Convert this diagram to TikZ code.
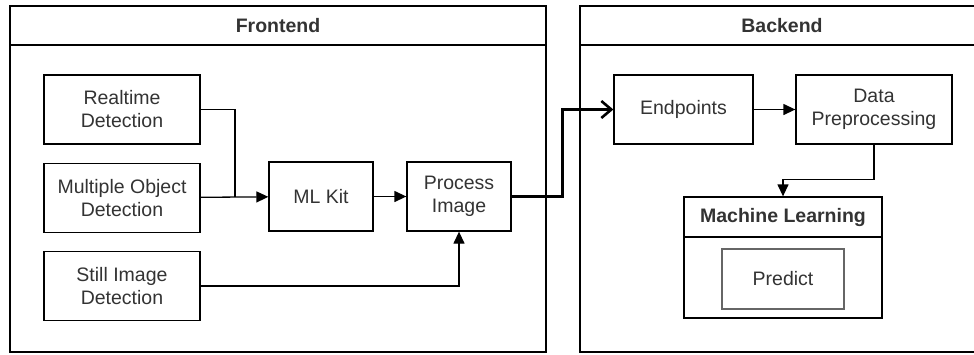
\documentclass[tikz,border=0pt]{standalone}
\usepackage{fontspec}
\setmainfont{Liberation Sans}
\usetikzlibrary{arrows.meta,positioning}
\definecolor{txtgray}{HTML}{333333}
\tikzset{
    box/.style={draw=black,line width=1.3pt,fill=white,align=center,text=txtgray,
        minimum width=156pt,minimum height=69pt,inner sep=0pt,
        font=\fontsize{19.5}{23}\selectfont},
    smallbox/.style={box,minimum width=104pt},
    link/.style={line width=1.3pt,-{Triangle[length=12pt,width=11pt]}},
    bigarrow/.style={line width=3pt,-{Straight Barb[length=10pt,width=17pt,line width=2.6pt]}},
    title/.style={text=txtgray,font=\bfseries\fontsize{19.5}{23}\selectfont}
}
\begin{document}
\begin{tikzpicture}[x=1pt,y=-1pt]
    \useasboundingbox (0,0) rectangle (974,354);
    \begin{scope}
        \clip (0,0) rectangle (974,354);

        % frontend frame
        \draw[line width=1.3pt] (10,6) rectangle (546,352);
        \draw[line width=1.3pt] (10,45) -- (546,45);
        \node[title] (front) at (278,26) {Frontend};

        % backend frame
        \draw[line width=1.3pt] (580,6) rectangle (990,352);
        \draw[line width=1.3pt] (580,45) -- (990,45);
        \node[title] (back) at (782,26) {Backend};
    \end{scope}

    % frontend boxes
    \node[box] (rt) at (122,109.5) {Realtime\\Detection};
    \node[box,below=18pt of rt] (mo) {Multiple Object\\Detection};
    \node[box,below=18pt of mo] (si) {Still Image\\Detection};
    \node[smallbox] (ml) at (321,196.5) {ML Kit};
    \node[smallbox] (pi) at (459,196.5) {Process\\Image};

    % backend boxes
    \node[box,minimum width=139pt] (ep) at (683.5,109.5) {Endpoints};
    \node[box] (dp) at (874,109.5) {Data\\Preprocessing};

    % machine learning container
    \node[box,minimum width=198pt,minimum height=121pt] (mlbox) at (783,257.5) {};
    \draw[line width=1.3pt] (684,237) -- (882,237);
    \node[title] (mltitle) at (783,217) {Machine Learning};
    \node[box,draw=black!60,line width=2.4pt,minimum width=122pt,minimum height=60pt] (pr) at (783,279) {Predict};

    % frontend links
    \coordinate (jn) at (235,196.5);
    \draw[line width=1.3pt] (rt.east) -| (jn);
    \draw[link] (mo) -- (ml);
    \draw[link] (ml) -- (pi);
    \draw[link] (si.east) -| (pi.south);

    % frontend to backend
    \draw[bigarrow] (pi.east) -- ++(51,0) |- (ep.west);

    % backend links
    \draw[link] (ep) -- (dp);
    \draw[link] (dp.south) -- ++(0,35) -| (mlbox.north);
\end{tikzpicture}
\end{document}
